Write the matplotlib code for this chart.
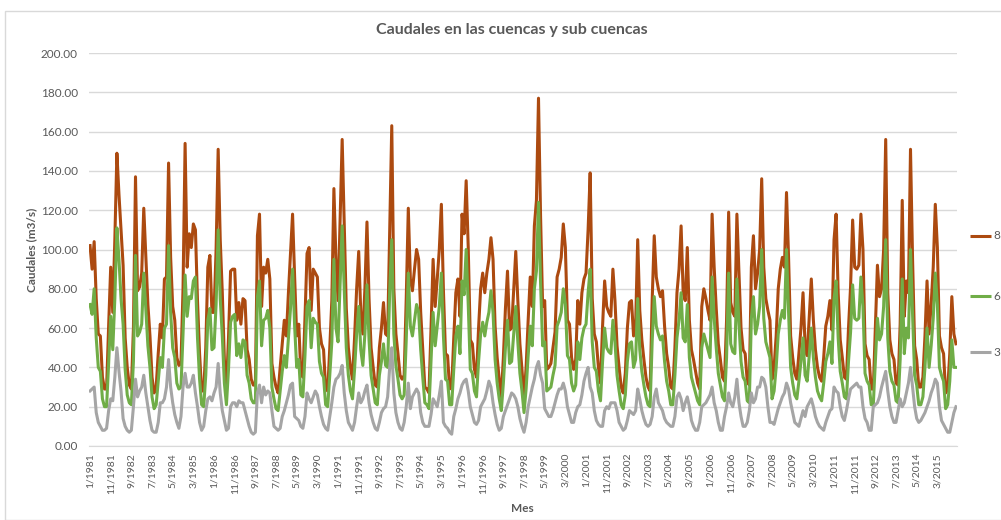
import matplotlib
matplotlib.use("Agg")
import matplotlib.pyplot as plt
from matplotlib.patches import Rectangle
from matplotlib.lines import Line2D

plt.rcParams['font.family'] = ['Lato', 'DejaVu Sans']

# Monthly discharge (m3/s), January 1981 - December 2015, one row per year
q8 = [
    102, 90, 104, 75, 57, 56, 35, 29, 29, 61, 91, 68,
    105, 149, 128, 110, 92, 55, 40, 31, 29, 60, 137, 79,
    81, 88, 121, 97, 72, 56, 35, 27, 30, 47, 62, 55,
    85, 86, 144, 96, 71, 64, 45, 41, 42, 80, 154, 91,
    108, 101, 113, 110, 74, 47, 28, 28, 50, 91, 97, 68,
    68, 100, 151, 105, 78, 44, 29, 55, 89, 90, 90, 64,
    73, 62, 75, 74, 49, 44, 34, 31, 31, 107, 118, 71,
    91, 88, 95, 85, 42, 35, 30, 27, 40, 52, 64, 56,
    78, 98, 118, 86, 56, 62, 37, 35, 65, 98, 101, 69,
    90, 88, 86, 60, 52, 49, 29, 28, 50, 74, 131, 95,
    74, 115, 156, 112, 70, 50, 40, 34, 55, 80, 99, 68,
    57, 80, 114, 75, 50, 40, 31, 30, 50, 60, 73, 57,
    56, 110, 163, 80, 57, 47, 36, 34, 36, 75, 121, 85,
    79, 90, 100, 95, 68, 49, 30, 29, 27, 60, 95, 71,
    85, 100, 123, 79, 47, 46, 29, 30, 55, 78, 85, 66,
    118, 108, 135, 101, 54, 52, 39, 35, 60, 80, 88, 78,
    88, 95, 106, 95, 61, 45, 34, 25, 45, 70, 89, 59,
    60, 80, 99, 74, 52, 39, 24, 40, 64, 86, 71, 112,
    125, 177, 117, 71, 74, 39, 40, 42, 50, 58, 86, 90,
    96, 113, 101, 64, 62, 45, 39, 44, 74, 62, 78, 85,
    88, 110, 139, 75, 57, 53, 40, 32, 61, 84, 71, 68,
    66, 90, 74, 51, 40, 30, 27, 37, 60, 73, 74, 56,
    62, 105, 69, 54, 44, 35, 30, 28, 74, 107, 86, 80,
    76, 79, 61, 47, 40, 30, 29, 50, 78, 90, 112, 78,
    74, 101, 64, 49, 44, 38, 32, 29, 71, 80, 75, 69,
    64, 118, 91, 70, 52, 44, 35, 33, 64, 119, 73, 68,
    66, 118, 88, 60, 49, 47, 33, 31, 91, 107, 80, 88,
    100, 136, 91, 75, 69, 64, 34, 40, 56, 80, 90, 96,
    91, 129, 96, 56, 45, 37, 34, 47, 60, 78, 51, 46,
    65, 85, 64, 49, 40, 35, 33, 45, 61, 66, 74, 59,
    105, 118, 78, 54, 45, 35, 34, 60, 81, 115, 91, 90,
    92, 118, 100, 52, 46, 44, 29, 29, 60, 92, 76, 80,
    100, 156, 78, 54, 47, 44, 32, 31, 62, 125, 66, 84,
    78, 151, 95, 51, 44, 30, 30, 35, 56, 84, 57, 72,
    91, 123, 101, 56, 50, 47, 27, 29, 47, 76, 57, 52,
]

q6 = [
    72, 67, 80, 55, 40, 38, 24, 20, 20, 42, 66, 49,
    75, 111, 95, 75, 62, 39, 26, 22, 21, 43, 97, 56,
    58, 62, 88, 69, 51, 40, 25, 19, 21, 33, 45, 40,
    60, 62, 102, 68, 50, 45, 32, 29, 30, 57, 87, 66,
    76, 75, 84, 86, 55, 34, 21, 20, 36, 64, 70, 49,
    50, 72, 110, 75, 56, 32, 21, 39, 63, 66, 67, 46,
    52, 45, 54, 53, 36, 32, 24, 22, 22, 76, 84, 51,
    64, 65, 69, 60, 30, 24, 19, 18, 28, 38, 46, 40,
    55, 70, 90, 61, 40, 44, 26, 25, 46, 71, 74, 50,
    65, 63, 62, 43, 37, 35, 21, 20, 36, 53, 95, 60,
    53, 82, 112, 80, 50, 36, 28, 24, 39, 57, 71, 49,
    41, 57, 82, 54, 36, 29, 22, 21, 36, 43, 52, 41,
    40, 79, 105, 57, 41, 34, 26, 24, 26, 54, 88, 61,
    56, 64, 72, 68, 49, 35, 22, 21, 19, 43, 68, 51,
    61, 71, 88, 56, 34, 33, 21, 21, 39, 56, 61, 47,
    84, 77, 100, 72, 39, 37, 28, 25, 43, 57, 63, 56,
    63, 68, 79, 68, 44, 32, 24, 18, 32, 50, 64, 42,
    43, 57, 71, 53, 37, 28, 17, 29, 46, 61, 51, 80,
    89, 124, 83, 51, 53, 28, 29, 30, 36, 41, 61, 64,
    68, 80, 72, 46, 44, 32, 28, 31, 53, 44, 55, 60,
    62, 78, 90, 53, 40, 38, 28, 23, 43, 60, 50, 48,
    47, 64, 53, 36, 28, 21, 19, 26, 43, 52, 53, 40,
    44, 75, 49, 38, 31, 25, 21, 20, 53, 76, 61, 57,
    54, 56, 43, 33, 28, 21, 21, 36, 55, 64, 78, 55,
    53, 72, 45, 35, 31, 27, 23, 21, 50, 57, 53, 49,
    45, 86, 65, 50, 37, 31, 25, 23, 45, 88, 52, 48,
    47, 85, 62, 43, 35, 33, 23, 22, 65, 76, 57, 62,
    71, 100, 65, 53, 49, 45, 24, 28, 40, 57, 64, 69,
    65, 100, 68, 40, 32, 26, 24, 33, 43, 55, 36, 33,
    46, 60, 45, 35, 28, 25, 23, 32, 43, 47, 53, 42,
    75, 84, 55, 38, 32, 25, 24, 43, 58, 82, 65, 64,
    65, 86, 71, 37, 33, 31, 21, 21, 43, 65, 54, 57,
    71, 105, 55, 38, 33, 31, 23, 22, 44, 85, 47, 60,
    55, 100, 67, 36, 31, 21, 21, 25, 40, 60, 40, 51,
    65, 88, 72, 40, 36, 33, 19, 21, 33, 54, 40, 40,
]

q3 = [
    28, 29, 30, 17, 12, 10, 8, 8, 9, 18, 24, 23,
    35, 50, 38, 28, 14, 10, 8, 7, 8, 20, 34, 25,
    28, 30, 36, 27, 20, 13, 8, 7, 7, 12, 22, 22,
    24, 30, 44, 30, 22, 16, 12, 9, 15, 30, 37, 30,
    30, 32, 36, 27, 20, 12, 8, 10, 18, 24, 25, 23,
    27, 30, 42, 27, 18, 13, 8, 9, 20, 22, 22, 20,
    23, 22, 22, 18, 14, 10, 7, 6, 7, 27, 31, 22,
    30, 26, 28, 27, 18, 10, 9, 8, 9, 15, 18, 22,
    26, 31, 32, 15, 14, 13, 10, 9, 15, 27, 24, 22,
    25, 28, 26, 20, 15, 11, 9, 8, 15, 22, 30, 34,
    35, 37, 41, 27, 18, 12, 10, 8, 12, 20, 27, 22,
    24, 28, 31, 22, 16, 12, 9, 8, 12, 17, 19, 20,
    25, 40, 50, 27, 17, 12, 9, 8, 12, 20, 32, 19,
    25, 27, 29, 27, 17, 12, 10, 10, 10, 16, 24, 22,
    20, 26, 33, 12, 10, 9, 7, 6, 15, 19, 24, 27,
    31, 33, 34, 28, 20, 16, 12, 11, 13, 20, 22, 24,
    28, 33, 30, 22, 16, 11, 8, 9, 15, 18, 21, 24,
    27, 26, 24, 20, 14, 10, 7, 12, 20, 25, 30, 34,
    40, 43, 36, 32, 19, 17, 15, 15, 18, 22, 26, 29,
    29, 32, 28, 20, 16, 12, 12, 17, 20, 21, 26, 33,
    37, 40, 30, 27, 18, 13, 11, 10, 10, 18, 20, 19,
    22, 22, 22, 18, 12, 10, 8, 9, 13, 18, 17, 16,
    18, 29, 24, 18, 14, 11, 10, 11, 15, 25, 29, 22,
    20, 18, 14, 12, 11, 10, 10, 15, 25, 27, 24, 18,
    22, 25, 20, 13, 10, 8, 8, 12, 20, 21, 22, 24,
    26, 30, 22, 18, 12, 8, 8, 15, 20, 27, 22, 20,
    25, 34, 22, 15, 10, 10, 12, 18, 27, 22, 24, 30,
    30, 35, 34, 30, 20, 12, 12, 11, 15, 19, 22, 25,
    27, 32, 29, 22, 17, 12, 11, 10, 14, 18, 15, 20,
    22, 24, 20, 15, 12, 10, 9, 8, 12, 15, 18, 19,
    30, 28, 27, 20, 15, 13, 18, 24, 29, 30, 31, 32,
    30, 30, 20, 14, 12, 8, 8, 20, 21, 22, 25, 30,
    34, 38, 28, 20, 15, 12, 12, 18, 24, 20, 22, 27,
    32, 40, 30, 20, 14, 12, 13, 15, 17, 20, 23, 27,
    30, 34, 32, 20, 13, 11, 9, 7, 7, 12, 17, 20,
]

# Category labels shown every tenth month
tick_labels = [
    "1/1981", "11/1981", "9/1982", "7/1983", "5/1984", "3/1985", "1/1986",
    "11/1986", "9/1987", "7/1988", "5/1989", "3/1990", "1/1991", "11/1991",
    "9/1992", "7/1993", "5/1994", "3/1995", "1/1996", "11/1996", "9/1997",
    "7/1998", "5/1999", "3/2000", "1/2001", "11/2001", "9/2002", "7/2003",
    "5/2004", "3/2005", "1/2006", "11/2006", "9/2007", "7/2008", "5/2009",
    "3/2010", "1/2011", "11/2011", "9/2012", "7/2013", "5/2014", "3/2015",
]
tick_step = 10

series = [("8", q8, "#AC4A10"), ("6", q6, "#70AD47"), ("3", q3, "#A5A5A5")]
y_ticks = [0, 20, 40, 60, 80, 100, 120, 140, 160, 180, 200]

W, H = 1001, 520
fig = plt.figure(figsize=(W / 100, H / 100), dpi=100)
fig.patch.set_facecolor("white")
fig.add_artist(Rectangle((5 / W, 0), 1.0, 1 - 11 / H, transform=fig.transFigure,
                         fill=False, edgecolor="#D9D9D9", lw=1.0))

ax = fig.add_axes([89 / W, 74 / H, 868 / W, 393 / H])
months = list(range(len(q8)))
for i, (name, vals, col) in enumerate(series):
    ax.plot(months, vals, color=col, lw=2.2, label=name, zorder=3 + i,
            solid_joinstyle="round")

ax.set_xlim(-0.5, len(q8) - 0.5)
ax.set_ylim(0, 200)
ax.set_yticks(y_ticks)
ax.set_yticklabels([f"{v:.2f}" for v in y_ticks])
ax.set_xticks(months[::tick_step])
ax.set_xticklabels(tick_labels, rotation=90)
ax.grid(axis="y", color="#D9D9D9", lw=1.0, zorder=0)
ax.set_axisbelow(True)
for s in ["top", "right", "left"]:
    ax.spines[s].set_visible(False)
ax.spines["bottom"].set_color("#D9D9D9")
ax.tick_params(axis="both", length=0, colors="#595959")
ax.tick_params(axis="y", labelsize=8.5, pad=8)
ax.tick_params(axis="x", labelsize=7.5, pad=5)

fig.text(0.5115, 1 - 30 / H, "Caudales en las cuencas y sub cuencas",
         ha="center", va="center", fontsize=11.5, fontweight="bold", color="#595959")
fig.text(32 / W, 1 - 250 / H, "Caudales (m3/s)", rotation=90, ha="center",
         va="center", fontsize=8.5, fontweight="bold", color="#595959")
fig.text(522 / W, 1 - 508 / H, "Mes", ha="center", va="center",
         fontsize=8.5, fontweight="bold", color="#595959")

# Legend entries stacked at the right edge
legend_rows = [236, 296, 352]
for (name, _, col), yrow in zip(series, legend_rows):
    yf = 1 - yrow / H
    fig.add_artist(Line2D([970 / W, 991 / W], [yf, yf], transform=fig.transFigure,
                          color=col, lw=2.2, solid_capstyle="butt"))
    fig.text(993 / W, yf, name, ha="left", va="center", fontsize=8.5,
             color="#595959")

fig.savefig("out.png", dpi=100, facecolor="white")
